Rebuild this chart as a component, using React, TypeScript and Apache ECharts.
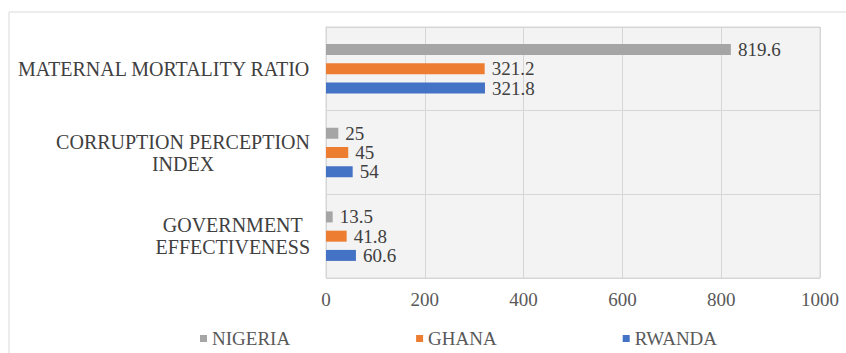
import React, { useEffect, useRef } from "react";
import * as echarts from "echarts";

const categories = ["GOVERNMENT\nEFFECTIVENESS", "CORRUPTION PERCEPTION\nINDEX", "MATERNAL MORTALITY RATIO"];
const seriesNames = ["NIGERIA", "GHANA", "RWANDA"];
const nigeria = [13.5, 25, 819.6];
const ghana = [41.8, 45, 321.2];
const rwanda = [60.6, 54, 321.8];
const xTicks = { min: 0, max: 1000, interval: 200 };

const colors = ["#a5a5a5", "#ed7d31", "#4472c4"];
const FONT = "Liberation Serif";
const FS = 19;

export default function App() {
  const ref = useRef<HTMLDivElement>(null);
  useEffect(() => {
    if (!ref.current) return;
    const chart = echarts.init(ref.current, null, { renderer: "svg" });
    const values = [nigeria, ghana, rwanda];
    chart.setOption({
      animation: false,
      backgroundColor: "#ffffff",
      textStyle: { fontFamily: FONT },
      graphic: [
        {
          type: "rect",
          shape: { x: 9, y: 12, width: 900, height: 400 },
          style: { fill: "none", stroke: "#d9d9d9", lineWidth: 1 },
          silent: true,
        },
      ],
      grid: {
        left: 326,
        right: 26,
        top: 27,
        bottom: 75,
        show: true,
        backgroundColor: "#f3f3f3",
        borderColor: "#d6d6d6",
        borderWidth: 1,
      },
      legend: {
        data: seriesNames,
        left: 195,
        top: 324,
        itemWidth: 7,
        itemHeight: 7,
        itemGap: 126,
        icon: "rect",
        textStyle: { fontFamily: FONT, fontSize: FS, color: "#595959" },
      },
      xAxis: {
        type: "value",
        min: xTicks.min,
        max: xTicks.max,
        interval: xTicks.interval,
        axisLine: { show: false },
        axisTick: { show: false },
        splitLine: { show: true, lineStyle: { color: "#d6d6d6", width: 1 } },
        axisLabel: {
          fontFamily: FONT,
          fontSize: FS,
          color: "#595959",
          margin: 12,
          formatter: (v: number) => String(v),
        },
      },
      yAxis: {
        type: "category",
        data: categories,
        axisLine: { show: true, lineStyle: { color: "#d6d6d6" } },
        axisTick: { show: false },
        splitLine: { show: true, lineStyle: { color: "#d6d6d6", width: 1 } },
        axisLabel: {
          margin: 16,
          align: "right",
          formatter: (v: string) =>
            v
              .split("\n")
              .map((l) => `{c|${l}}`)
              .join("\n"),
          rich: {
            c: {
              align: "center",
              fontFamily: FONT,
              fontSize: 20,
              color: "#404040",
              lineHeight: 22,
            },
          },
        },
      },
      series: seriesNames.map((name, i) => ({
        name,
        type: "bar",
        data: values[i],
        barWidth: 11,
        barGap: "75%",
        itemStyle: { color: colors[i] },
        label: {
          show: true,
          position: "right",
          distance: 7,
          fontFamily: FONT,
          fontSize: FS,
          color: "#404040",
        },
      })),
    });
    return () => chart.dispose();
  }, []);
  return (
    <div
      ref={ref}
      style={{ position: "fixed", left: 0, top: 0, width: 846, height: 353 }}
    />
  );
}
